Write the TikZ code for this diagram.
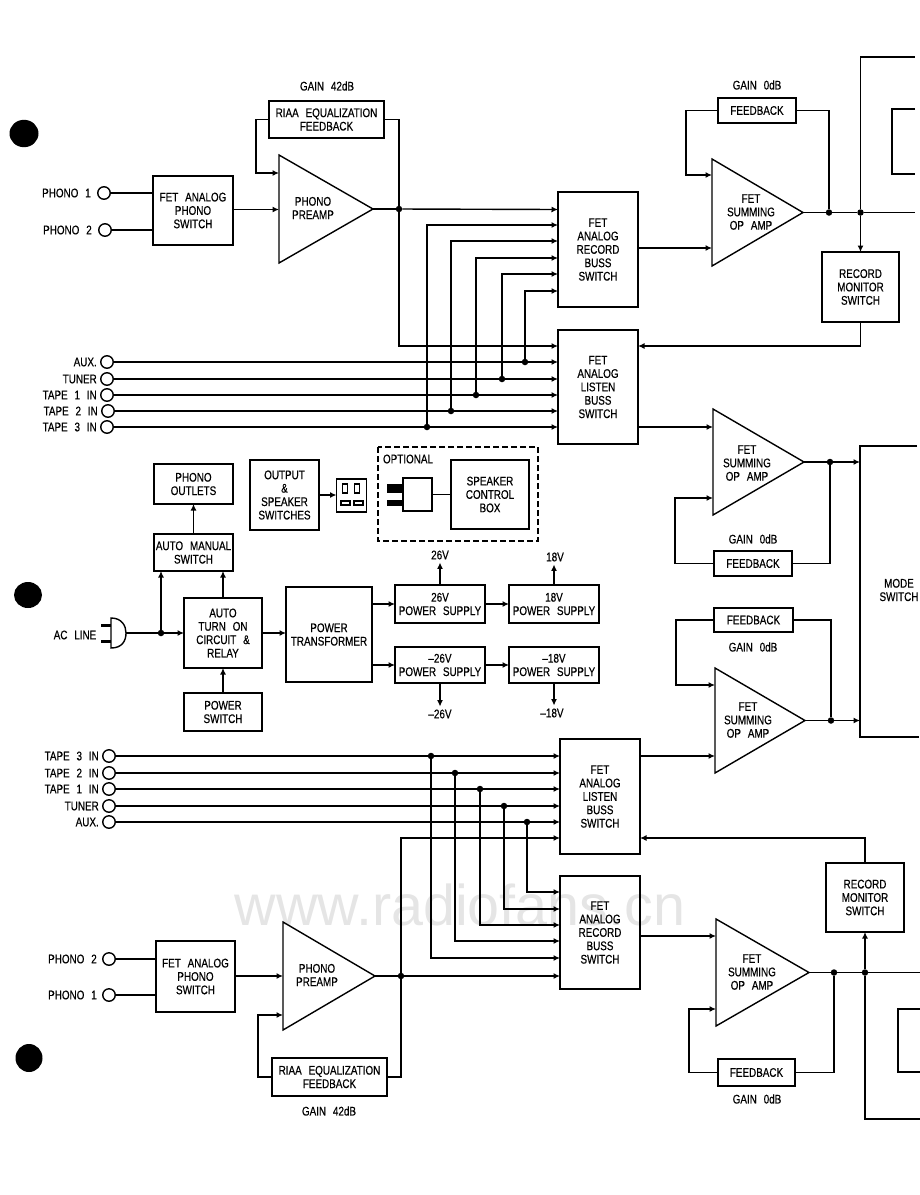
\documentclass[tikz,border=0pt]{standalone}
\usepackage{fontspec}
\setmainfont[FakeStretch=0.79,WordSpace=2.5,FakeBold=0.5]{Liberation Sans}
\newfontfamily\markfont{Liberation Sans}
\usepackage{tikz}
\usetikzlibrary{math}
\usetikzlibrary{arrows.meta}
\usetikzlibrary{positioning}
\def\lblfont{\fontsize{12.5}{13.4}\selectfont}

\begin{document}
\begin{tikzpicture}[x=1pt, y=-1pt,
    wire/.style={line width=1.4pt},
    sig/.style={wire, -{Latex[length=6.5pt, width=6pt]}},
    txt/.style={font=\lblfont, align=center, inner sep=0pt, outer sep=0pt},
    block/.style={txt, draw, line width=1.4pt},
    jack/.style={circle, draw, line width=1.4pt, inner sep=0pt, outer sep=0pt, minimum size=12.5pt},
    dot/.style={circle, fill=black, inner sep=0pt, outer sep=0pt, minimum size=6.5pt}]
  \useasboundingbox (0, 0) rectangle (920, 1195);

  % site mark behind everything
  \node [font=\markfont\fontsize{57.5}{57.5}\selectfont, text=black!10, inner sep=0pt] (sitemark) at (460, 905) {www.radiofans.cn};

  % punched holes
  \fill (24, 133.5) ellipse (14.5 and 13.7);
  \fill (28, 595) ellipse (14 and 13);
  \fill (29, 1058) ellipse (13.5 and 14);

  % boxes
  \foreach \nm/\xa/\ya/\xb/\yb/\txt in {
    phonoa/153/176/233/245/{FET ANALOG\\PHONO\\SWITCH},
    riaaa/269/101/384/138/{RIAA EQUALIZATION\\FEEDBACK},
    reca/558/192/638/307/{FET\\ANALOG\\RECORD\\BUSS\\SWITCH},
    lisa/558/330/638/444/{FET\\ANALOG\\LISTEN\\BUSS\\SWITCH},
    fba/718/98/796/123/{FEEDBACK},
    mona/822/252/899/322/{RECORD\\MONITOR\\SWITCH},
    fbb/714/551/792/576/{FEEDBACK},
    fbc/714/608/793/632/{FEEDBACK},
    lisb/560/739/640/854/{FET\\ANALOG\\LISTEN\\BUSS\\SWITCH},
    recb/560/876/640/989/{FET\\ANALOG\\RECORD\\BUSS\\SWITCH},
    phonob/156/941/235/1012/{FET ANALOG\\PHONO\\SWITCH},
    riaab/272/1058/387/1096/{RIAA EQUALIZATION\\FEEDBACK},
    fbd/718/1059/795/1086/{FEEDBACK},
    monb/826/863/904/932/{RECORD\\MONITOR\\SWITCH},
    outlets/154/464/233/504/{PHONO\\OUTLETS},
    automan/154/534/233/571/{AUTO MANUAL\\SWITCH},
    outsw/250/460/319/530/{OUTPUT\\\&\\SPEAKER\\SWITCHES},
    socket/336.5/479/366.5/512/{},
    plugbody/403/478/432/511/{},
    spkbox/451/460/529/529/{SPEAKER\\CONTROL\\BOX},
    autoon/184/598/262/668/{AUTO\\TURN ON\\CIRCUIT \&\\RELAY},
    pwrsw/184/693/262/731/{POWER\\SWITCH},
    xfmr/286/587/372/682/{POWER\\TRANSFORMER},
    psa/395/585/485/623/{26V\\POWER SUPPLY},
    psb/509/585/599/623/{18V\\POWER SUPPLY},
    psc/395/647/485/683/{--26V\\POWER SUPPLY},
    psd/509/647/599/683/{--18V\\POWER SUPPLY}} {
    \tikzmath{
      \xc = (\xa+\xb)/2;
      \yc = (\ya+\yb)/2;
      \bw = \xb-\xa;
      \bh = \yb-\ya;
    }
    \node [block, minimum width=\bw pt, minimum height=\bh pt] (\nm) at (\xc, \yc) {\txt};
  }

  % amplifiers
  \foreach \nm/\xl/\yt/\yb/\xt/\yin/\yfb/\xp/\yp/\txt in {
    prea/279/155/263/373/209.5/173/313/208/{PHONO\\PREAMP},
    ampa/712/159/266/803/248/175/751/212/{FET\\SUMMING\\OP AMP},
    ampb/713/409/515/804/427/498/747/463/{FET\\SUMMING\\OP AMP},
    ampc/715/668/773/805/756/685/748/720/{FET\\SUMMING\\OP AMP},
    preb/283/922/1030/375/976/1015/317/975/{PHONO\\PREAMP},
    ampd/716/919/1026/809/936/1009/752/972/{FET\\SUMMING\\OP AMP}} {
    \tikzmath{
      \ym = (\yt+\yb)/2;
    }
    \draw [wire, line join=miter] (\xl, \yt) -- (\xl, \yb) -- (\xt, \ym) coordinate (\nm tip) -- cycle;
    \coordinate (\nm in) at (\xl, \yin);
    \coordinate (\nm fb) at (\xl, \yfb);
    \node [txt] (\nm lbl) at (\xp, \yp) {\txt};
  }

  % gain labels
  \foreach \nm/\x/\y/\txt in {gaina/327/86/GAIN 42dB, gainb/757/85/GAIN 0dB, gainc/753/539/GAIN 0dB,
    gaind/753/647/GAIN 0dB, gaine/329/1111/GAIN 42dB, gainf/757/1099/GAIN 0dB} {
    \node [txt] (\nm) at (\x, \y) {\txt};
  }

  % pins on the buss switches
  \foreach \i/\ya/\yb/\yc/\yd in {1/209.5/346/756/892, 2/225/362/773/909, 3/241/379/789/925,
    4/258/395/806/941, 5/274/411/822/958, 6/291/427/838/976} {
    \coordinate (recain\i) at (reca.west |- 0, \ya);
    \coordinate (lisain\i) at (lisa.west |- 0, \yb);
    \coordinate (lisbin\i) at (lisb.west |- 0, \yc);
    \coordinate (recbin\i) at (recb.west |- 0, \yd);
  }

  % upper channel
  \node [jack] (phonoaj) at (104, 193) {};
  \node [jack] (phonoak) at (105, 230) {};
  \node [txt, left=7pt of phonoaj] (phonoajlbl) {PHONO 1};
  \node [txt, left=7pt of phonoak] (phonoaklbl) {PHONO 2};
  \draw [wire] (phonoaj) -- (phonoa.west |- phonoaj);
  \draw [wire] (phonoak) -- (phonoa.west |- phonoak);
  \draw [sig] (phonoa.east |- preain) -- (preain);
  \node [dot] (dotpa) at (399, 0 |- preatip) {};
  \draw [wire] (preatip) -- (dotpa);
  \draw [sig] (dotpa) -- (recain1);
  \draw [wire] (riaaa.east) -| (dotpa);
  \draw [sig] (riaaa.west) -- ++(-13, 0) |- (preafb);
  \draw [sig] (dotpa) |- (lisain1);

  \foreach \nm/\lbl/\jx/\pin/\xd/\rpin in {aux/AUX./107/2/525/6, tuner/TUNER/107/3/502/5, tapea/TAPE 1 IN/107/4/476/4,
    tapeb/TAPE 2 IN/108/5/451/3, tapec/TAPE 3 IN/107/6/427/2} {
    \node [jack] (\nm u) at (\jx, 0 |- lisain\pin) {};
    \node [txt, left=4pt of \nm u] (\nm ulbl) {\lbl};
    \node [dot] (\nm udot) at (\xd, 0 |- lisain\pin) {};
    \draw [sig] (\nm u) -- (lisain\pin);
    \draw [sig] (\nm udot) |- (recain\rpin);
  }

  \draw [sig] (reca.east |- ampain) -- (ampain);
  \node [dot] (dotfa) at (829, 0 |- ampatip) {};
  \node [dot] (dotma) at (860.5, 0 |- ampatip) {};
  \coordinate (righta) at (915, 0 |- ampatip);
  \coordinate (toppa) at (915, 57);
  \draw [wire] (ampatip) -- (dotfa) -- (dotma) -- (righta);
  \draw [wire] (fba.east) -| (dotfa);
  \draw [sig] (fba.west) -- ++(-32, 0) |- (ampafb);
  \draw [wire] (dotma) |- (toppa);
  \draw [sig] (dotma) -- (dotma |- mona.north);
  \draw [sig] (mona.south) |- (lisa.east |- lisain1);
  \draw [wire] (915, 109) -- (892, 109) -- (892, 174) -- (915, 174);

  \draw [sig] (lisa.east |- ampbin) -- (ampbin);
  \node [dot] (dotfb) at (830, 0 |- ampbtip) {};
  \draw [wire] (ampbtip) -- (dotfb);
  \draw [wire] (fbb.east) -| (dotfb);
  \draw [sig] (fbb.west) -- ++(-39, 0) |- (ampbfb);

  % mode switch, runs off the page
  \draw [wire] (917, 446) -- (860, 446) -- (860, 737) -- (919, 737);
  \node [txt] (mode) at (899, 590) {MODE\\SWITCH};
  \coordinate (modea) at (860, 0 |- ampbtip);
  \coordinate (modeb) at (860, 0 |- ampctip);
  \draw [sig] (dotfb) -- (modea);

  % lower channel
  \node [dot] (dotfc) at (831, 0 |- ampctip) {};
  \draw [wire] (ampctip) -- (dotfc);
  \draw [sig] (dotfc) -- (modeb);
  \draw [wire] (fbc.east) -| (dotfc);
  \draw [sig] (fbc.west) -- ++(-38, 0) |- (ampcfb);
  \draw [sig] (lisb.east |- ampcin) -- (ampcin);

  \foreach \nm/\lbl/\pin/\xd/\rpin in {tapef/TAPE 3 IN/1/431/5, tapee/TAPE 2 IN/2/455/4, taped/TAPE 1 IN/3/480/3,
    tunerb/TUNER/4/504/2, auxb/AUX./5/527/1} {
    \node [jack] (\nm u) at (109, 0 |- lisbin\pin) {};
    \node [txt, left=4pt of \nm u] (\nm ulbl) {\lbl};
    \node [dot] (\nm udot) at (\xd, 0 |- lisbin\pin) {};
    \draw [sig] (\nm u) -- (lisbin\pin);
    \draw [sig] (\nm udot) |- (recbin\rpin);
  }

  \node [jack] (phonobj) at (109, 959) {};
  \node [jack] (phonobk) at (109, 995) {};
  \node [txt, left=6pt of phonobj] (phonobjlbl) {PHONO 2};
  \node [txt, left=6pt of phonobk] (phonobklbl) {PHONO 1};
  \draw [wire] (phonobj) -- (phonob.west |- phonobj);
  \draw [wire] (phonobk) -- (phonob.west |- phonobk);
  \draw [sig] (phonob.east |- prebin) -- (prebin);
  \node [dot] (dotpb) at (401, 0 |- prebtip) {};
  \draw [wire] (prebtip) -- (dotpb);
  \draw [sig] (dotpb) -- (recbin6);
  \draw [sig] (dotpb) |- (lisbin6);
  \draw [wire] (riaab.east) -| (dotpb);
  \draw [sig] (riaab.west) -- ++(-14, 0) |- (prebfb);

  \draw [sig] (recb.east |- ampdin) -- (ampdin);
  \node [dot] (dotfd) at (834, 0 |- ampdtip) {};
  \node [dot] (dotmb) at (865, 0 |- ampdtip) {};
  \coordinate (rightd) at (920, 0 |- ampdtip);
  \coordinate (botpd) at (920, 1119);
  \draw [wire] (ampdtip) -- (dotfd) -- (dotmb) -- (rightd);
  \draw [wire] (fbd.east) -| (dotfd);
  \draw [sig] (fbd.west) -- ++(-29, 0) |- (ampdfb);
  \draw [wire] (dotmb) |- (botpd);
  \draw [sig] (dotmb) -- (dotmb |- monb.south);
  \draw [sig] (monb.north) |- (lisb.east |- lisbin6);
  \draw [wire] (920, 1009) -- (898, 1009) -- (898, 1072) -- (920, 1072);

  % socket slots and optional plug
  \draw [sig] (outsw.east) -- (outsw.east -| socket.west);
  \foreach \x in {345, 357} {
    \draw [line width=1.2pt] (\x-2.5, 484) rectangle (\x+2.5, 493);
  }
  \foreach \x in {341, 354} {
    \draw [line width=1.2pt] (\x, 501) rectangle (\x+9, 505);
  }
  \draw [wire, dash pattern=on 6pt off 3pt] (378, 447) rectangle (538, 541);
  \node [txt] (optional) at (408, 459) {OPTIONAL};
  \fill (387, 484) rectangle (403, 493);
  \fill (387, 500) rectangle (403, 506);
  \draw [wire] (plugbody.east) -- (spkbox.west |- plugbody.east);

  % mains input and power supplies
  \node [txt] (acline) at (75, 635) {AC LINE};
  \fill (101, 624) rectangle (111, 627);
  \fill (101, 640) rectangle (111, 643);
  \draw [wire] (111, 618) .. controls (122, 618) and (126, 626) .. (126, 633) .. controls (126, 641) and (122, 648) .. (111, 648) -- cycle;
  \coordinate (acplug) at (126, 0 |- autoon.west);
  \node [dot] (dotac) at (161, 0 |- autoon.west) {};
  \draw [wire] (acplug) -- (dotac);
  \draw [sig] (dotac) -- (autoon.west);
  \draw [sig] (dotac) -- (dotac |- automan.south);
  \draw [sig] (autoon.north) -- (autoon.north |- automan.south);
  \draw [sig] (automan.north) -- (outlets.south);
  \draw [sig] (pwrsw.north) -- (autoon.south);
  \draw [sig] (autoon.east) -- (autoon.east -| xfmr.west);
  \draw [sig] (xfmr.east |- psa.west) -- (psa.west);
  \draw [sig] (xfmr.east |- psc.west) -- (psc.west);
  \draw [sig] (psa.east) -- (psb.west);
  \draw [sig] (psc.east) -- (psd.west);

  \node [txt, inner sep=3pt] (volta) at (440, 555) {26V};
  \node [txt, inner sep=3pt] (voltb) at (555, 557) {18V};
  \node [txt, inner sep=3pt] (voltc) at (440, 714) {--26V};
  \node [txt, inner sep=3pt] (voltd) at (552, 713) {--18V};
  \draw [sig] (psa.north) -- (psa.north |- volta.south);
  \draw [sig] (psb.north) -- (psb.north |- voltb.south);
  \draw [sig] (psc.south) -- (psc.south |- voltc.north);
  \draw [sig] (psd.south) -- (psd.south |- voltd.north);
\end{tikzpicture}
\end{document}
